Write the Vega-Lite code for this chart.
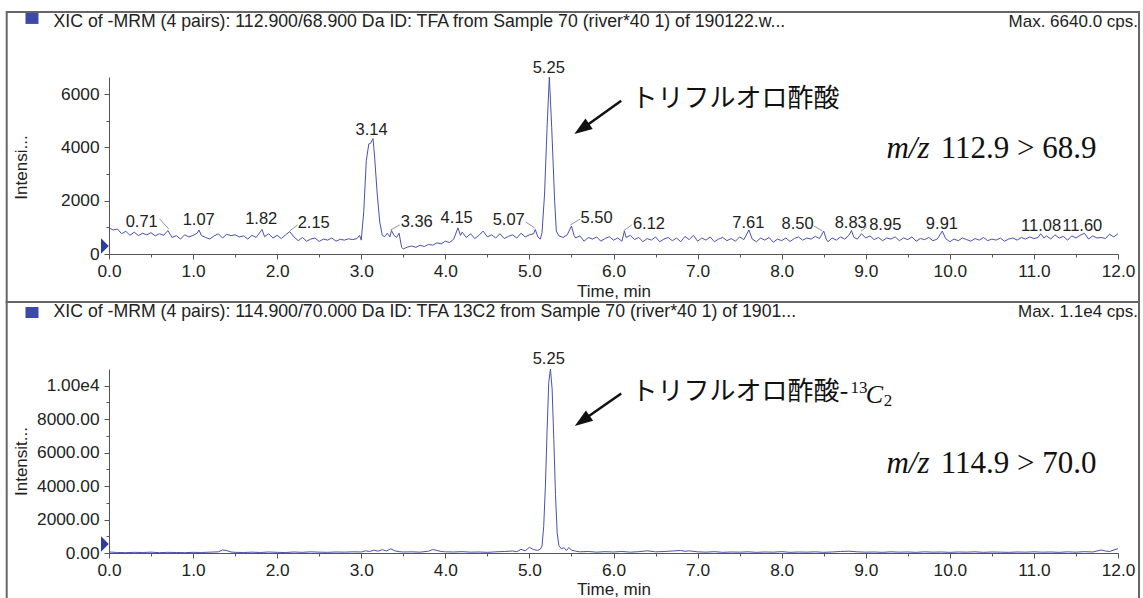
{
  "$schema": "https://vega.github.io/schema/vega-lite/v6.json",
  "background": "white",
  "padding": {"left": 5, "top": 10, "right": 0, "bottom": 0},
  "bounds": "flush",
  "spacing": 115,
  "config": {
    "view": {"stroke": null},
    "font": "Liberation Sans",
    "axis": {
      "grid": false,
      "domainColor": "#555",
      "tickColor": "#555",
      "labelColor": "#222",
      "labelFont": "Liberation Sans",
      "labelFontSize": 17.3,
      "titleFont": "Liberation Sans",
      "titleFontSize": 17,
      "titleFontWeight": "normal",
      "titleColor": "#222",
      "tickSize": 5
    }
  },
  "datasets": {
    "trace1": [
      {"x":0.00,"y":980},{"x":0.05,"y":900},{"x":0.10,"y":940},{"x":0.15,"y":760},{"x":0.20,"y":850},{"x":0.25,"y":700},{"x":0.30,"y":820},{"x":0.35,"y":690},{"x":0.40,"y":780},{"x":0.45,"y":720},{"x":0.50,"y":800},{"x":0.55,"y":680},{"x":0.60,"y":760},{"x":0.65,"y":700},{"x":0.70,"y":880},{"x":0.75,"y":620},{"x":0.80,"y":690},{"x":0.85,"y":560},{"x":0.90,"y":720},{"x":0.95,"y":640},
      {"x":1.00,"y":700},{"x":1.05,"y":780},{"x":1.07,"y":900},{"x":1.10,"y":690},{"x":1.15,"y":620},{"x":1.20,"y":560},{"x":1.25,"y":680},{"x":1.30,"y":760},{"x":1.35,"y":600},{"x":1.40,"y":740},{"x":1.45,"y":690},{"x":1.50,"y":720},{"x":1.55,"y":640},{"x":1.60,"y":680},{"x":1.65,"y":560},{"x":1.70,"y":700},{"x":1.75,"y":620},{"x":1.82,"y":920},{"x":1.85,"y":650},{"x":1.90,"y":760},{"x":1.95,"y":600},
      {"x":2.00,"y":700},{"x":2.05,"y":580},{"x":2.10,"y":720},{"x":2.15,"y":840},{"x":2.20,"y":640},{"x":2.25,"y":500},{"x":2.30,"y":620},{"x":2.35,"y":480},{"x":2.40,"y":560},{"x":2.45,"y":600},{"x":2.50,"y":470},{"x":2.55,"y":560},{"x":2.60,"y":520},{"x":2.65,"y":600},{"x":2.70,"y":480},{"x":2.75,"y":550},{"x":2.80,"y":520},{"x":2.85,"y":570},{"x":2.90,"y":540},{"x":2.95,"y":580},{"x":2.98,"y":700},
      {"x":3.00,"y":520},{"x":3.03,"y":1600},{"x":3.06,"y":3500},{"x":3.09,"y":4130},{"x":3.11,"y":4150},{"x":3.14,"y":4330},{"x":3.16,"y":3600},{"x":3.19,"y":2250},{"x":3.22,"y":1200},{"x":3.25,"y":700},{"x":3.28,"y":650},{"x":3.31,"y":780},{"x":3.34,"y":640},{"x":3.36,"y":880},{"x":3.39,"y":700},{"x":3.42,"y":620},{"x":3.45,"y":780},{"x":3.48,"y":250},{"x":3.50,"y":190},{"x":3.55,"y":260},{"x":3.60,"y":300},{"x":3.65,"y":250},{"x":3.70,"y":330},{"x":3.75,"y":280},{"x":3.80,"y":360},{"x":3.85,"y":330},{"x":3.90,"y":420},{"x":3.95,"y":380},
      {"x":4.00,"y":480},{"x":4.05,"y":430},{"x":4.10,"y":560},{"x":4.15,"y":980},{"x":4.18,"y":700},{"x":4.20,"y":820},{"x":4.25,"y":620},{"x":4.30,"y":760},{"x":4.35,"y":580},{"x":4.40,"y":700},{"x":4.45,"y":860},{"x":4.50,"y":640},{"x":4.55,"y":720},{"x":4.60,"y":600},{"x":4.65,"y":760},{"x":4.70,"y":580},{"x":4.75,"y":660},{"x":4.80,"y":720},{"x":4.85,"y":600},{"x":4.90,"y":780},{"x":4.95,"y":640},
      {"x":5.00,"y":720},{"x":5.05,"y":760},{"x":5.07,"y":920},{"x":5.10,"y":640},{"x":5.13,"y":560},{"x":5.15,"y":800},{"x":5.18,"y":2250},{"x":5.21,"y":4750},{"x":5.237,"y":6640},{"x":5.265,"y":4750},{"x":5.30,"y":1990},{"x":5.32,"y":860},{"x":5.35,"y":680},{"x":5.40,"y":620},{"x":5.45,"y":720},{"x":5.50,"y":1050},{"x":5.53,"y":700},{"x":5.55,"y":600},{"x":5.60,"y":680},{"x":5.65,"y":480},{"x":5.70,"y":620},{"x":5.75,"y":560},{"x":5.80,"y":640},{"x":5.85,"y":480},{"x":5.90,"y":580},{"x":5.95,"y":650},
      {"x":6.00,"y":520},{"x":6.05,"y":600},{"x":6.10,"y":480},{"x":6.13,"y":860},{"x":6.15,"y":620},{"x":6.20,"y":700},{"x":6.25,"y":540},{"x":6.30,"y":620},{"x":6.35,"y":460},{"x":6.40,"y":580},{"x":6.45,"y":520},{"x":6.50,"y":640},{"x":6.55,"y":460},{"x":6.60,"y":560},{"x":6.65,"y":620},{"x":6.70,"y":500},{"x":6.75,"y":600},{"x":6.80,"y":460},{"x":6.85,"y":660},{"x":6.90,"y":540},{"x":6.95,"y":700},
      {"x":7.00,"y":480},{"x":7.05,"y":600},{"x":7.10,"y":520},{"x":7.15,"y":640},{"x":7.20,"y":460},{"x":7.25,"y":560},{"x":7.30,"y":620},{"x":7.35,"y":500},{"x":7.40,"y":580},{"x":7.45,"y":480},{"x":7.50,"y":640},{"x":7.55,"y":540},{"x":7.61,"y":900},{"x":7.65,"y":560},{"x":7.70,"y":460},{"x":7.75,"y":600},{"x":7.80,"y":520},{"x":7.85,"y":620},{"x":7.90,"y":440},{"x":7.95,"y":560},
      {"x":8.00,"y":500},{"x":8.05,"y":600},{"x":8.10,"y":470},{"x":8.15,"y":580},{"x":8.20,"y":640},{"x":8.25,"y":520},{"x":8.30,"y":600},{"x":8.35,"y":560},{"x":8.40,"y":660},{"x":8.45,"y":580},{"x":8.50,"y":860},{"x":8.53,"y":560},{"x":8.55,"y":460},{"x":8.60,"y":600},{"x":8.65,"y":520},{"x":8.70,"y":640},{"x":8.75,"y":560},{"x":8.80,"y":700},{"x":8.83,"y":880},{"x":8.86,"y":620},{"x":8.90,"y":560},{"x":8.95,"y":760},
      {"x":9.00,"y":600},{"x":9.05,"y":680},{"x":9.10,"y":540},{"x":9.15,"y":620},{"x":9.20,"y":500},{"x":9.25,"y":600},{"x":9.30,"y":560},{"x":9.35,"y":640},{"x":9.40,"y":500},{"x":9.45,"y":600},{"x":9.50,"y":540},{"x":9.55,"y":640},{"x":9.60,"y":480},{"x":9.65,"y":580},{"x":9.70,"y":540},{"x":9.75,"y":620},{"x":9.80,"y":500},{"x":9.85,"y":560},{"x":9.91,"y":860},{"x":9.95,"y":580},
      {"x":10.00,"y":460},{"x":10.05,"y":560},{"x":10.10,"y":500},{"x":10.15,"y":600},{"x":10.20,"y":540},{"x":10.25,"y":480},{"x":10.30,"y":580},{"x":10.35,"y":520},{"x":10.40,"y":620},{"x":10.45,"y":500},{"x":10.50,"y":560},{"x":10.55,"y":520},{"x":10.60,"y":600},{"x":10.65,"y":480},{"x":10.70,"y":560},{"x":10.75,"y":600},{"x":10.80,"y":520},{"x":10.85,"y":620},{"x":10.90,"y":560},{"x":10.95,"y":640},
      {"x":11.00,"y":580},{"x":11.05,"y":620},{"x":11.08,"y":760},{"x":11.12,"y":600},{"x":11.15,"y":680},{"x":11.20,"y":560},{"x":11.25,"y":720},{"x":11.30,"y":600},{"x":11.35,"y":660},{"x":11.40,"y":520},{"x":11.45,"y":680},{"x":11.50,"y":600},{"x":11.55,"y":700},{"x":11.60,"y":780},{"x":11.65,"y":560},{"x":11.70,"y":680},{"x":11.75,"y":600},{"x":11.80,"y":620},{"x":11.85,"y":580},{"x":11.90,"y":740},{"x":11.95,"y":640},{"x":12.00,"y":760}
    ],
    "trace2": [
      {"x":0.0,"y":60},{"x":0.1,"y":30},{"x":0.2,"y":20},{"x":0.3,"y":40},{"x":0.4,"y":30},{"x":0.5,"y":50},{"x":0.6,"y":20},{"x":0.7,"y":40},{"x":0.8,"y":30},{"x":0.9,"y":20},{"x":1.0,"y":40},{"x":1.1,"y":30},{"x":1.2,"y":50},{"x":1.3,"y":70},{"x":1.35,"y":180},{"x":1.4,"y":150},{"x":1.45,"y":60},{"x":1.5,"y":40},{"x":1.6,"y":30},{"x":1.7,"y":50},{"x":1.8,"y":30},{"x":1.9,"y":60},
      {"x":2.0,"y":40},{"x":2.1,"y":30},{"x":2.2,"y":60},{"x":2.3,"y":40},{"x":2.4,"y":70},{"x":2.5,"y":50},{"x":2.6,"y":40},{"x":2.7,"y":60},{"x":2.8,"y":50},{"x":2.9,"y":70},{"x":3.0,"y":60},{"x":3.05,"y":130},{"x":3.1,"y":90},{"x":3.15,"y":170},{"x":3.2,"y":110},{"x":3.25,"y":200},{"x":3.3,"y":120},{"x":3.35,"y":250},{"x":3.4,"y":130},{"x":3.45,"y":80},{"x":3.5,"y":60},{"x":3.6,"y":70},{"x":3.7,"y":50},{"x":3.8,"y":110},{"x":3.85,"y":210},{"x":3.9,"y":150},{"x":3.95,"y":90},
      {"x":4.0,"y":70},{"x":4.1,"y":60},{"x":4.2,"y":80},{"x":4.3,"y":50},{"x":4.4,"y":60},{"x":4.5,"y":40},{"x":4.6,"y":70},{"x":4.7,"y":90},{"x":4.8,"y":120},{"x":4.85,"y":80},{"x":4.9,"y":220},{"x":4.95,"y":130},{"x":5.0,"y":340},{"x":5.05,"y":200},{"x":5.1,"y":160},{"x":5.13,"y":230},{"x":5.15,"y":420},{"x":5.17,"y":1600},{"x":5.19,"y":4000},{"x":5.21,"y":7300},{"x":5.23,"y":10200},{"x":5.25,"y":11000},{"x":5.27,"y":9800},{"x":5.29,"y":6800},{"x":5.31,"y":3500},{"x":5.33,"y":1200},{"x":5.35,"y":450},{"x":5.38,"y":250},{"x":5.41,"y":320},{"x":5.44,"y":150},{"x":5.47,"y":330},{"x":5.5,"y":170},{"x":5.55,"y":110},{"x":5.6,"y":70},{"x":5.7,"y":90},{"x":5.8,"y":50},{"x":5.9,"y":80},
      {"x":6.0,"y":60},{"x":6.1,"y":90},{"x":6.2,"y":50},{"x":6.3,"y":80},{"x":6.4,"y":130},{"x":6.5,"y":70},{"x":6.6,"y":90},{"x":6.7,"y":120},{"x":6.8,"y":150},{"x":6.85,"y":100},{"x":6.9,"y":130},{"x":7.0,"y":70},{"x":7.1,"y":50},{"x":7.2,"y":80},{"x":7.3,"y":40},{"x":7.4,"y":60},{"x":7.5,"y":50},{"x":7.6,"y":70},{"x":7.7,"y":40},{"x":7.8,"y":60},{"x":7.9,"y":50},
      {"x":8.0,"y":80},{"x":8.1,"y":40},{"x":8.2,"y":60},{"x":8.3,"y":50},{"x":8.4,"y":70},{"x":8.5,"y":40},{"x":8.6,"y":60},{"x":8.7,"y":90},{"x":8.8,"y":110},{"x":8.9,"y":70},{"x":9.0,"y":50},{"x":9.1,"y":60},{"x":9.2,"y":40},{"x":9.3,"y":70},{"x":9.4,"y":50},{"x":9.5,"y":60},{"x":9.6,"y":40},{"x":9.7,"y":70},{"x":9.8,"y":50},{"x":9.9,"y":60},
      {"x":10.0,"y":40},{"x":10.1,"y":60},{"x":10.2,"y":50},{"x":10.3,"y":70},{"x":10.4,"y":40},{"x":10.5,"y":60},{"x":10.6,"y":50},{"x":10.7,"y":40},{"x":10.8,"y":60},{"x":10.9,"y":50},{"x":11.0,"y":70},{"x":11.1,"y":50},{"x":11.2,"y":60},{"x":11.3,"y":40},{"x":11.4,"y":70},{"x":11.5,"y":50},{"x":11.6,"y":80},{"x":11.7,"y":60},{"x":11.8,"y":180},{"x":11.85,"y":120},{"x":11.9,"y":90},{"x":12.0,"y":260}
    ],
    "peaks1": [
      {"x":0.389,"y":1202,"label":"0.71"},{"x":1.067,"y":1277,"label":"1.07"},{"x":1.810,"y":1315,"label":"1.82"},{"x":2.435,"y":1165,"label":"2.15"},{"x":3.124,"y":4659,"label":"3.14"},{"x":3.660,"y":1202,"label":"3.36"},{"x":4.135,"y":1353,"label":"4.15"},{"x":4.754,"y":1277,"label":"5.07"},{"x":5.230,"y":6988,"label":"5.25"},{"x":5.799,"y":1353,"label":"5.50"},{"x":6.422,"y":1127,"label":"6.12"},{"x":7.603,"y":1165,"label":"7.61"},{"x":8.189,"y":1127,"label":"8.50"},{"x":8.821,"y":1165,"label":"8.83"},{"x":9.232,"y":1090,"label":"8.95"},{"x":9.906,"y":1127,"label":"9.91"},{"x":11.085,"y":1052,"label":"11.08"},{"x":11.575,"y":1052,"label":"11.60"}
    ],
    "leaders1": [
      {"x":0.603,"y":1315,"x2":0.710,"y2":939},{"x":2.149,"y":864,"x2":2.244,"y2":1090},{"x":3.350,"y":902,"x2":3.457,"y2":1090},{"x":4.956,"y":1202,"x2":5.063,"y2":977},{"x":5.488,"y":1090,"x2":5.601,"y2":1304},{"x":6.118,"y":864,"x2":6.217,"y2":1090},{"x":8.381,"y":1052,"x2":8.485,"y2":864},{"x":8.944,"y":864,"x2":9.012,"y2":1014}
    ]
  },
  "vconcat": [
    {
      "width": 1009,
      "height": 177,
      "encoding": {
        "x": {"field": "x", "type": "quantitative", "scale": {"domain": [0, 12], "nice": false, "zero": false},
          "axis": {"values": [0,0.5,1,1.5,2,2.5,3,3.5,4,4.5,5,5.5,6,6.5,7,7.5,8,8.5,9,9.5,10,10.5,11,11.5,12],
            "labelExpr": "datum.value % 1 === 0 ? format(datum.value, '.1f') : ''",
            "labelOverlap": false, "labelFlush": false, "labelPadding": 3,
            "tickSize": {"condition": {"test": "datum.value % 1 === 0", "value": 5}, "value": 3},
            "title": "Time, min", "titlePadding": 4}},
        "y": {"field": "y", "type": "quantitative", "scale": {"domain": [0, 6640], "nice": false},
          "axis": {"values": [0,1000,2000,3000,4000,5000,6000],
            "labelExpr": "datum.value % 2000 === 0 ? format(datum.value, 'd') : ''",
            "labelOverlap": false, "labelPadding": 5,
            "tickSize": {"condition": {"test": "datum.value % 2000 === 0", "value": 5}, "value": 3},
            "title": "Intensi...", "titleX": -88, "titleY": 90, "titleAngle": 270, "titleAlign": "center", "titleBaseline": "middle"}}
      },
      "layer": [
        {"data": {"values": [{"x": -1.2167, "x2": 12.25, "y": 9082, "y2": -1803}]},
         "mark": {"type": "rect", "fill": null, "stroke": "#666", "strokeWidth": 2},
         "encoding": {"x2": {"field": "x2"}, "y2": {"field": "y2"}}},
        {"data": {"name": "trace1"},
         "mark": {"type": "line", "color": "#4a50b0", "strokeWidth": 1, "interpolate": "linear"}},
        {"data": {"name": "peaks1"},
         "mark": {"type": "text", "fontSize": 16.5, "color": "#222", "baseline": "middle", "align": "center"},
         "encoding": {"text": {"field": "label"}}},
        {"data": {"name": "leaders1"},
         "mark": {"type": "rule", "color": "#777", "strokeWidth": 0.8},
         "encoding": {"x2": {"field": "x2"}, "y2": {"field": "y2"}}},
        {"data": {"values": [{"x": -0.916, "y": 8838}]},
         "mark": {"type": "point", "filled": true, "opacity": 1, "color": "#3b4aa6", "shape": "M-1,-0.85H1V0.85H-1Z", "size": 169}},
        {"data": {"values": [{"x": -0.049, "y": 300}]},
         "mark": {"type": "point", "filled": true, "opacity": 1, "color": "#2e3d9c", "shape": "M-0.5,-1L0.5,0L-0.5,1Z", "size": 240}},
        {"data": {"values": [{"x": -0.660, "y": 8718, "label": "XIC of -MRM (4 pairs): 112.900/68.900 Da ID: TFA from Sample 70 (river*40 1) of 190122.w..."}]},
         "mark": {"type": "text", "fontSize": 17.7, "color": "#222", "align": "left", "baseline": "middle"},
         "encoding": {"text": {"field": "label"}}},
        {"data": {"values": [{"x": 12.238, "y": 8718, "label": "Max. 6640.0 cps."}]},
         "mark": {"type": "text", "fontSize": 17, "color": "#222", "align": "right", "baseline": "middle"},
         "encoding": {"text": {"field": "label"}}},
        {"data": {"values": [{"x": 6.092, "y": 5748, "x2": 5.622, "y2": 4692}]},
         "mark": {"type": "rule", "color": "#111", "strokeWidth": 2.5},
         "encoding": {"x2": {"field": "x2"}, "y2": {"field": "y2"}}},
        {"data": {"values": [{"x": 5.622, "y": 4692}]},
         "mark": {"type": "point", "filled": true, "opacity": 1, "color": "#111", "shape": "M0,-1L0.7,1L-0.7,1Z", "size": 324, "angle": 235}},
        {"data": {"values": [{"x": 6.215, "y": 5823, "label": "トリフルオロ酢酸"}]},
         "mark": {"type": "text", "font": "Noto Sans CJK JP", "fontSize": 26, "color": "#111", "align": "left", "baseline": "middle"},
         "encoding": {"text": {"field": "label"}}},
        {"data": {"values": [{"x": 9.246, "y": 3595, "label": "m/z"}]},
         "mark": {"type": "text", "font": "Liberation Serif", "fontStyle": "italic", "fontSize": 31, "color": "#111", "align": "left", "baseline": "alphabetic"},
         "encoding": {"text": {"field": "label"}}},
        {"data": {"values": [{"x": 9.892, "y": 3595, "label": "112.9 > 68.9"}]},
         "mark": {"type": "text", "font": "Liberation Serif", "fontSize": 31, "color": "#111", "align": "left", "baseline": "alphabetic"},
         "encoding": {"text": {"field": "label"}}}
      ]
    },
    {
      "width": 1009,
      "height": 184,
      "encoding": {
        "x": {"field": "x", "type": "quantitative", "scale": {"domain": [0, 12], "nice": false, "zero": false},
          "axis": {"values": [0,0.5,1,1.5,2,2.5,3,3.5,4,4.5,5,5.5,6,6.5,7,7.5,8,8.5,9,9.5,10,10.5,11,11.5,12],
            "labelExpr": "datum.value % 1 === 0 ? format(datum.value, '.1f') : ''",
            "labelOverlap": false, "labelFlush": false, "labelPadding": 3,
            "tickSize": {"condition": {"test": "datum.value % 1 === 0", "value": 5}, "value": 3},
            "title": "Time, min", "titlePadding": 3}},
        "y": {"field": "y", "type": "quantitative", "scale": {"domain": [0, 11000], "nice": false},
          "axis": {"values": [0,1000,2000,3000,4000,5000,6000,7000,8000,9000,10000],
            "labelExpr": "datum.value === 10000 ? '1.00e4' : (datum.value % 2000 === 0 ? format(datum.value, '.2f') : '')",
            "labelOverlap": false, "labelPadding": 5,
            "tickSize": {"condition": {"test": "datum.value % 2000 === 0", "value": 5}, "value": 3},
            "title": "Intensit...", "titleX": -88, "titleY": 92, "titleAngle": 270, "titleAlign": "center", "titleBaseline": "middle"}}
      },
      "layer": [
        {"data": {"values": [{"x": -1.2167, "x2": 12.25, "y": 15005, "y2": -2869}]},
         "mark": {"type": "rect", "fill": null, "stroke": "#666", "strokeWidth": 2},
         "encoding": {"x2": {"field": "x2"}, "y2": {"field": "y2"}}},
        {"data": {"name": "trace2"},
         "mark": {"type": "line", "color": "#4a50b0", "strokeWidth": 1, "interpolate": "linear"}},
        {"data": {"values": [{"x": 5.230, "y": 11615, "label": "5.25"}]},
         "mark": {"type": "text", "fontSize": 16.5, "color": "#222", "baseline": "middle", "align": "center"},
         "encoding": {"text": {"field": "label"}}},
        {"data": {"values": [{"x": -0.916, "y": 14378}]},
         "mark": {"type": "point", "filled": true, "opacity": 1, "color": "#3b4aa6", "shape": "M-1,-0.85H1V0.85H-1Z", "size": 169}},
        {"data": {"values": [{"x": -0.049, "y": 538}]},
         "mark": {"type": "point", "filled": true, "opacity": 1, "color": "#2e3d9c", "shape": "M-0.5,-1L0.5,0L-0.5,1Z", "size": 240}},
        {"data": {"values": [{"x": -0.660, "y": 14378, "label": "XIC of -MRM (4 pairs): 114.900/70.000 Da ID: TFA 13C2 from Sample 70 (river*40 1) of 1901..."}]},
         "mark": {"type": "text", "fontSize": 17.7, "color": "#222", "align": "left", "baseline": "middle"},
         "encoding": {"text": {"field": "label"}}},
        {"data": {"values": [{"x": 12.238, "y": 14378, "label": "Max. 1.1e4 cps."}]},
         "mark": {"type": "text", "fontSize": 17, "color": "#222", "align": "right", "baseline": "middle"},
         "encoding": {"text": {"field": "label"}}},
        {"data": {"values": [{"x": 6.092, "y": 9535, "x2": 5.627, "y2": 7903}]},
         "mark": {"type": "rule", "color": "#111", "strokeWidth": 2.5},
         "encoding": {"x2": {"field": "x2"}, "y2": {"field": "y2"}}},
        {"data": {"values": [{"x": 5.627, "y": 7903}]},
         "mark": {"type": "point", "filled": true, "opacity": 1, "color": "#111", "shape": "M0,-1L0.7,1L-0.7,1Z", "size": 324, "angle": 235}},
        {"data": {"values": [{"x": 6.215, "y": 9625, "label": "トリフルオロ酢酸-"}]},
         "mark": {"type": "text", "font": "Noto Sans CJK JP", "fontSize": 26, "color": "#111", "align": "left", "baseline": "middle"},
         "encoding": {"text": {"field": "label"}}},
        {"data": {"values": [{"x": 8.818, "y": 9583, "label": "13"}]},
         "mark": {"type": "text", "font": "Liberation Serif", "fontSize": 17, "color": "#111", "align": "left", "baseline": "alphabetic"},
         "encoding": {"text": {"field": "label"}}},
        {"data": {"values": [{"x": 8.999, "y": 8985, "label": "C"}]},
         "mark": {"type": "text", "font": "Liberation Serif", "fontStyle": "italic", "fontSize": 26, "color": "#111", "align": "left", "baseline": "alphabetic"},
         "encoding": {"text": {"field": "label"}}},
        {"data": {"values": [{"x": 9.215, "y": 8788, "label": "2"}]},
         "mark": {"type": "text", "font": "Liberation Serif", "fontSize": 17, "color": "#111", "align": "left", "baseline": "alphabetic"},
         "encoding": {"text": {"field": "label"}}},
        {"data": {"values": [{"x": 9.246, "y": 4764, "label": "m/z"}]},
         "mark": {"type": "text", "font": "Liberation Serif", "fontStyle": "italic", "fontSize": 31, "color": "#111", "align": "left", "baseline": "alphabetic"},
         "encoding": {"text": {"field": "label"}}},
        {"data": {"values": [{"x": 9.892, "y": 4764, "label": "114.9 > 70.0"}]},
         "mark": {"type": "text", "font": "Liberation Serif", "fontSize": 31, "color": "#111", "align": "left", "baseline": "alphabetic"},
         "encoding": {"text": {"field": "label"}}}
      ]
    }
  ]
}
